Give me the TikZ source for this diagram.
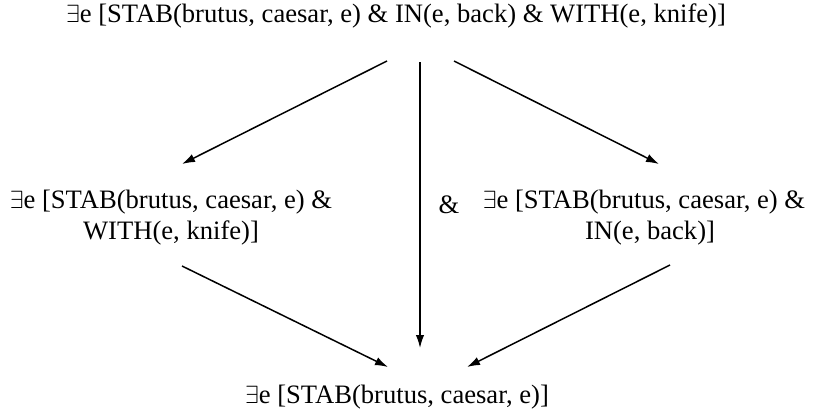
\documentclass[tikz,border=0pt]{standalone}
\usepackage{fontspec}
\setmainfont{Liberation Serif}
\usetikzlibrary{arrows.meta}
\begin{document}
\begin{tikzpicture}[x=1pt,y=-1pt,
  lbl/.style={inner sep=0pt,font=\fontsize{26.6}{31}\selectfont,align=center},
  arr/.style={line width=1.5pt,-{Latex[length=13pt,width=8.5pt]}}]
\useasboundingbox (0,0) rectangle (814,415);
\node[lbl] (top) at (396,16) {$\exists$e [STAB(brutus, caesar, e) \& IN(e, back) \& WITH(e, knife)]};
\node[lbl] (left) at (171,218) {$\exists$e [STAB(brutus, caesar, e) \&\\WITH(e, knife)]};
\node[lbl] (right) at (644,218) {$\exists$e [STAB(brutus, caesar, e) \&\\\hspace*{12pt}IN(e, back)]};
\node[lbl] (amp) at (449,205) {\&};
\node[lbl] (bot) at (397,397) {$\exists$e [STAB(brutus, caesar, e)]};
\coordinate (t1) at (387,61);
\coordinate (t2) at (420,62);
\coordinate (t3) at (454,61);
\coordinate (l1) at (182,164);
\coordinate (r1) at (659,164);
\coordinate (l2) at (182,266);
\coordinate (r2) at (670,265);
\coordinate (b1) at (388,367);
\coordinate (b2) at (420,348);
\coordinate (b3) at (467,367);
\draw[arr] (t1) -- (l1);
\draw[arr] (t3) -- (r1);
\draw[arr] (t2) -- (b2);
\draw[arr] (l2) -- (b1);
\draw[arr] (r2) -- (b3);
\end{tikzpicture}
\end{document}
